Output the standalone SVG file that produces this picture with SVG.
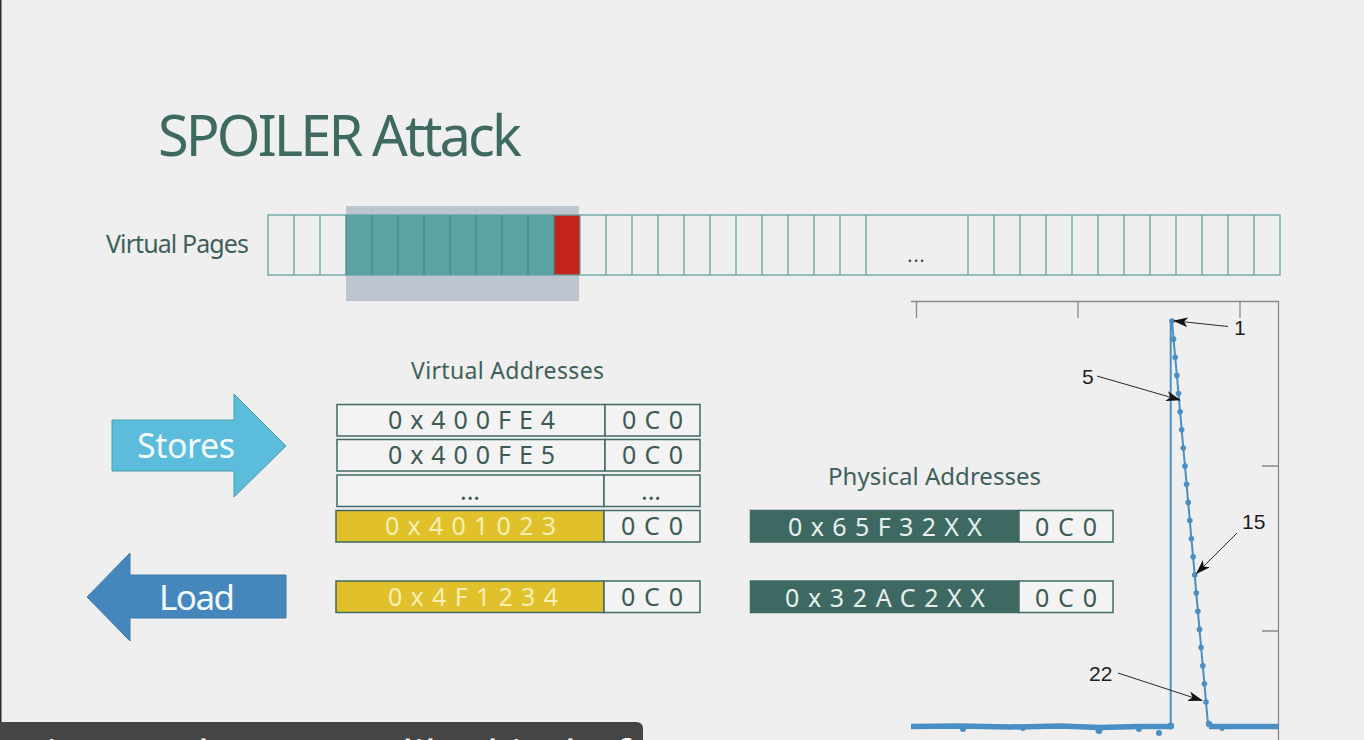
<svg xmlns="http://www.w3.org/2000/svg" width="1364" height="740" viewBox="0 0 1364 740">
<style>
  .lbl{font-family:"Noto Sans","Open Sans","Liberation Sans",sans-serif;fill:#3f5f5a}
  .addr{font-family:"Noto Sans","Open Sans","Liberation Sans",sans-serif;font-size:25px;fill:#3d5a55}
  .cell{fill:#f3f3f3;stroke:#3f6a65;stroke-width:1.5}
  .ycell{fill:#e0c12c;stroke:#3f6a65;stroke-width:1.5}
  .dcell{fill:#3e6963;stroke:#3e6963;stroke-width:1.5}
  .ytxt{fill:#f7efb4}
  .dtxt{fill:#e6efec}
  .ann{font-family:"Liberation Sans",Arial,sans-serif;font-size:21px;fill:#1e1e1e}
  .annl{stroke:#2a2a2a;stroke-width:1;fill:none}
  .pt{fill:#4a8fc4}
</style>
<defs>
  <marker id="ah" markerUnits="userSpaceOnUse" markerWidth="16" markerHeight="10" refX="14" refY="5" orient="auto">
    <path d="M0,0 L15,5 L0,10 L4,5 Z" fill="#111"/>
  </marker>
</defs>
<rect x="0" y="0" width="1364" height="740" fill="#efefef"/>
<rect x="0" y="0" width="1.5" height="740" fill="#2a2a2a"/>

<g id="title">
  <text x="158" y="156" font-family="Noto Sans, Open Sans, sans-serif" font-size="56" fill="#3e6a62" textLength="364">SPOILER Attack</text>
</g>

<g id="virtual-pages">
  <text class="lbl" x="106" y="253" font-size="25" textLength="143">Virtual Pages</text>
  <rect x="346" y="206" width="233" height="95" fill="#bdc5cf"/>
  <rect x="268" y="215" width="78" height="60" fill="#efefef"/>
  <rect x="580" y="215" width="700" height="60" fill="#efefef"/>
  <rect x="346" y="215" width="208" height="60" fill="#5ca3a5"/>
  <rect x="554" y="215" width="26" height="60" fill="#c2241d"/>
  <rect x="268" y="215" width="1012" height="60" fill="none" stroke="#62a3a2" stroke-width="1.3"/>
  <path d="M294,215V275M320,215V275M580,215V275M606,215V275M632,215V275M658,215V275M684,215V275M710,215V275M736,215V275M762,215V275M788,215V275M814,215V275M840,215V275M866,215V275M968,215V275M994,215V275M1020,215V275M1046,215V275M1072,215V275M1098,215V275M1124,215V275M1150,215V275M1176,215V275M1202,215V275M1228,215V275M1254,215V275" stroke="#62a3a2" stroke-width="1.3" fill="none"/>
  <path d="M346,215V275M372,215V275M398,215V275M424,215V275M450,215V275M476,215V275M502,215V275M528,215V275M554,215V275" stroke="#4a8886" stroke-width="1.3" fill="none"/>
  <text x="916" y="262" font-family="Liberation Sans, sans-serif" font-size="22" fill="#3a4a48" text-anchor="middle">...</text>
</g>

<g id="stores-arrow">
  <path d="M112,420 H234 V394 L286,446 L234,497 V471 H112 Z" fill="#5bbcdc" stroke="#4a9ea6" stroke-width="1"/>
  <text x="137" y="458" font-family="Noto Sans, Open Sans, sans-serif" font-size="34" fill="#f4fbfd" textLength="98">Stores</text>
</g>

<g id="load-arrow">
  <path d="M286,575 H130 V553 L87,597 L130,641 V618 H286 Z" fill="#4586bd" stroke="#3f7ca8" stroke-width="1"/>
  <text x="159" y="610" font-family="Noto Sans, Open Sans, sans-serif" font-size="35" fill="#f4fbfd" textLength="76">Load</text>
</g>

<g id="virtual-addresses">
  <text class="lbl" x="411" y="379" font-size="23" textLength="193">Virtual Addresses</text>
  <rect class="cell" x="337" y="404.5" width="268" height="31.5"/>
  <rect class="cell" x="605" y="404.5" width="95" height="31.5"/>
  <text class="addr" x="388" y="429" textLength="167">0x400FE4</text>
  <text class="addr" x="622" y="429" textLength="61">0C0</text>

  <rect class="cell" x="337" y="439.5" width="268" height="31.5"/>
  <rect class="cell" x="605" y="439.5" width="95" height="31.5"/>
  <text class="addr" x="388" y="464" textLength="167">0x400FE5</text>
  <text class="addr" x="622" y="464" textLength="61">0C0</text>

  <rect class="cell" x="337" y="475" width="267" height="31.5"/>
  <rect class="cell" x="604" y="475" width="96" height="31.5"/>
  <text class="addr" x="470" y="500" font-size="16" text-anchor="middle">...</text>
  <text class="addr" x="651" y="500" font-size="16" text-anchor="middle">...</text>

  <rect class="ycell" x="336" y="510.5" width="268" height="31.5"/>
  <rect class="cell" x="604" y="510.5" width="96" height="31.5"/>
  <text class="addr ytxt" x="385" y="535" textLength="171">0x401023</text>
  <text class="addr" x="621" y="535" textLength="62">0C0</text>

  <rect class="ycell" x="336" y="581" width="268" height="31.5"/>
  <rect class="cell" x="604" y="581" width="96" height="31.5"/>
  <text class="addr ytxt" x="388" y="605.5" textLength="170">0x4F1234</text>
  <text class="addr" x="621" y="605.5" textLength="62">0C0</text>
</g>

<g id="physical-addresses">
  <text class="lbl" x="828" y="485" font-size="24" textLength="213">Physical Addresses</text>
  <rect class="dcell" x="750.5" y="510.5" width="268.5" height="31.5"/>
  <rect class="cell" x="1019" y="510.5" width="94" height="31.5" stroke="#3e6963"/>
  <text class="addr dtxt" x="788" y="536" textLength="194">0x65F32XX</text>
  <text class="addr" x="1035" y="536" textLength="62">0C0</text>

  <rect class="dcell" x="750.5" y="581" width="268.5" height="31.5"/>
  <rect class="cell" x="1019" y="581" width="94" height="31.5" stroke="#3e6963"/>
  <text class="addr dtxt" x="785" y="606.5" textLength="200">0x32AC2XX</text>
  <text class="addr" x="1035" y="606.5" textLength="62">0C0</text>
</g>

<g id="chart">
  <path d="M911,301.5 H1278.5 V740" stroke="#8a8a8a" stroke-width="1.3" fill="none"/>
  <path d="M916.5,301.5 V318 M1078,301.5 V318 M1240,301.5 V318 M1278.5,466 H1262 M1278.5,631 H1262" stroke="#8a8a8a" stroke-width="1.3" fill="none"/>
  <path d="M911,726.5 L960,726 L1010,727 L1060,726 L1100,727.5 L1140,726.5 L1170.7,726.5" stroke="#4a8fc4" stroke-width="5.5" fill="none"/>
  <path d="M1209,726.5 L1240,726.5 L1279,726.5" stroke="#4a8fc4" stroke-width="5.5" fill="none"/>
  <path d="M1170.7,726 V321 H1172 L1173.6,339.1 L1175.2,357.3 L1176.9,375.4 L1178.5,393.6 L1180.1,411.7 L1181.7,429.8 L1183.3,448 L1185,466.1 L1186.6,484.3 L1188.2,502.4 L1189.8,520.5 L1191.4,538.7 L1193.1,556.8 L1194.7,575 L1196.3,593.1 L1197.9,611.2 L1199.5,629.4 L1201.1,647.5 L1202.8,665.7 L1204.4,683.8 L1206,702 L1207.6,720 L1209,726" stroke="#4a8fc4" stroke-width="2" fill="none"/>
  <g class="pt">
    <circle cx="1172" cy="321" r="2.8"/><circle cx="1173.6" cy="339.1" r="2.8"/><circle cx="1175.2" cy="357.3" r="2.8"/><circle cx="1176.9" cy="375.4" r="2.8"/><circle cx="1178.5" cy="393.6" r="2.8"/><circle cx="1180.1" cy="411.7" r="2.8"/><circle cx="1181.7" cy="429.8" r="2.8"/><circle cx="1183.3" cy="448" r="2.8"/><circle cx="1185" cy="466.1" r="2.8"/><circle cx="1186.6" cy="484.3" r="2.8"/><circle cx="1188.2" cy="502.4" r="2.8"/><circle cx="1189.8" cy="520.5" r="2.8"/><circle cx="1191.4" cy="538.7" r="2.8"/><circle cx="1193.1" cy="556.8" r="2.8"/><circle cx="1194.7" cy="575" r="2.8"/><circle cx="1196.3" cy="593.1" r="2.8"/><circle cx="1197.9" cy="611.2" r="2.8"/><circle cx="1199.5" cy="629.4" r="2.8"/><circle cx="1201.1" cy="647.5" r="2.8"/><circle cx="1202.8" cy="665.7" r="2.8"/><circle cx="1204.4" cy="683.8" r="2.8"/><circle cx="1206" cy="702" r="2.8"/><circle cx="1209" cy="724" r="3.2"/>
    <circle cx="1170.7" cy="726" r="3.5"/><circle cx="963" cy="729" r="3"/><circle cx="1099" cy="730.5" r="3.5"/><circle cx="1139" cy="729" r="3"/><circle cx="1159" cy="733" r="3"/><circle cx="1023" cy="728.5" r="2.5"/><circle cx="1222" cy="728.5" r="2.5"/>
  </g>
  <path class="annl" d="M1228,326.5 L1174,320.8" marker-end="url(#ah)"/>
  <path class="annl" d="M1097,376 L1180,400" marker-end="url(#ah)"/>
  <path class="annl" d="M1237,533 L1196.5,573.5" marker-end="url(#ah)"/>
  <path class="annl" d="M1118,673 L1202,700.5" marker-end="url(#ah)"/>
  <text class="ann" x="1234" y="335">1</text>
  <text class="ann" x="1082" y="384">5</text>
  <text class="ann" x="1242" y="529">15</text>
  <text class="ann" x="1089" y="681">22</text>
  <text x="1208" y="751" font-family="Liberation Sans, sans-serif" font-size="15" fill="#5a5a5a">26</text>
</g>

<g id="subtitle">
  <path d="M0,722 H636 Q643,722 643,729 V740 H0 Z" fill="#454545"/>
  <text font-family="Noto Sans, Open Sans, sans-serif" font-size="44" fill="#ffffff" y="772"><tspan x="30">tion</tspan><tspan x="130">and</tspan><tspan x="402">like</tspan><tspan x="487">kind</tspan><tspan x="588">of</tspan></text>
</g>
</svg>
